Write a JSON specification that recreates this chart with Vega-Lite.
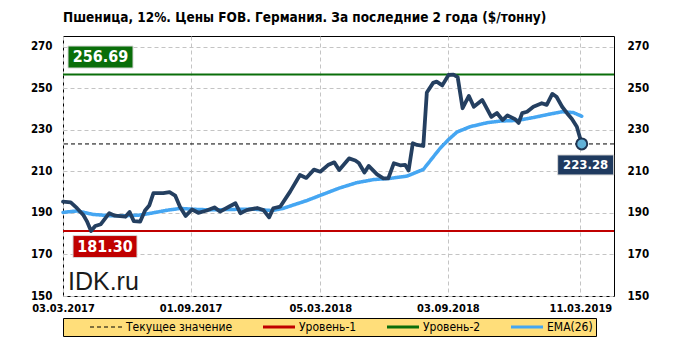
{
  "$schema": "https://vega.github.io/schema/vega-lite/v6.json",
  "width": 551,
  "height": 260,
  "autosize": {"type": "none"},
  "padding": {"left": 63, "top": 36, "right": 67, "bottom": 45},
  "background": "#ffffff",
  "title": {
    "text": "Пшеница, 12%. Цены FOB. Германия. За последние 2 года ($/тонну)",
    "anchor": "start",
    "frame": "group",
    "font": "DejaVu Sans Condensed",
    "fontSize": 13.5,
    "fontWeight": "bold",
    "color": "#000000",
    "baseline": "alphabetic",
    "offset": 1
  },
  "config": {
    "view": {"stroke": "#000000", "strokeWidth": 1},
    "font": "DejaVu Sans Condensed",
    "axis": {
      "labelFont": "DejaVu Sans Condensed",
      "labelFontWeight": "bold",
      "labelFontSize": 11.5,
      "labelColor": "#000000",
      "domain": false,
      "ticks": false,
      "gridColor": "#c4c4c4",
      "gridDash": [4, 3],
      "gridWidth": 1,
      "title": null
    },
    "legend": {
      "orient": "bottom",
      "offset": 5,
      "direction": "horizontal",
      "symbolType": "M-3.2,0H3.2",
      "symbolSize": 100,
      "symbolOffset": 34,
      "labelOffset": 14,
      "columnPadding": 6,
      "padding": 3,
      "strokeColor": "#000000",
      "fillColor": "#FFDE7A",
      "labelFont": "DejaVu Sans Condensed",
      "labelFontSize": 12,
      "labelColor": "#000000",
      "title": null
    }
  },
  "datasets": {
    "price": [
      {"date": "2017-03-03", "value": 195.5},
      {"date": "2017-03-14", "value": 195.1},
      {"date": "2017-03-23", "value": 192.3},
      {"date": "2017-04-01", "value": 189.0},
      {"date": "2017-04-06", "value": 186.1},
      {"date": "2017-04-12", "value": 181.3},
      {"date": "2017-04-18", "value": 183.7},
      {"date": "2017-04-26", "value": 184.6},
      {"date": "2017-05-08", "value": 189.9},
      {"date": "2017-05-16", "value": 188.7},
      {"date": "2017-05-31", "value": 188.2},
      {"date": "2017-06-06", "value": 190.5},
      {"date": "2017-06-12", "value": 186.1},
      {"date": "2017-06-21", "value": 185.8},
      {"date": "2017-06-28", "value": 191.2},
      {"date": "2017-07-04", "value": 193.6},
      {"date": "2017-07-10", "value": 199.6},
      {"date": "2017-07-24", "value": 199.6},
      {"date": "2017-08-02", "value": 200.1},
      {"date": "2017-08-10", "value": 198.4},
      {"date": "2017-08-17", "value": 192.9},
      {"date": "2017-08-25", "value": 188.6},
      {"date": "2017-09-03", "value": 191.7},
      {"date": "2017-09-12", "value": 190.1},
      {"date": "2017-09-24", "value": 191.2},
      {"date": "2017-10-05", "value": 192.7},
      {"date": "2017-10-13", "value": 190.7},
      {"date": "2017-10-25", "value": 192.9},
      {"date": "2017-11-04", "value": 194.7},
      {"date": "2017-11-11", "value": 189.9},
      {"date": "2017-11-20", "value": 191.4},
      {"date": "2017-12-05", "value": 192.4},
      {"date": "2017-12-14", "value": 191.4},
      {"date": "2017-12-22", "value": 187.9},
      {"date": "2017-12-28", "value": 192.3},
      {"date": "2018-01-07", "value": 193.1},
      {"date": "2018-01-21", "value": 200.3},
      {"date": "2018-02-04", "value": 208.3},
      {"date": "2018-02-13", "value": 206.9},
      {"date": "2018-02-24", "value": 210.9},
      {"date": "2018-03-05", "value": 209.9},
      {"date": "2018-03-16", "value": 213.1},
      {"date": "2018-03-25", "value": 214.4},
      {"date": "2018-04-01", "value": 210.7},
      {"date": "2018-04-15", "value": 216.3},
      {"date": "2018-04-24", "value": 215.3},
      {"date": "2018-04-29", "value": 214.1},
      {"date": "2018-05-07", "value": 209.5},
      {"date": "2018-05-13", "value": 212.7},
      {"date": "2018-05-25", "value": 208.6},
      {"date": "2018-06-03", "value": 206.7},
      {"date": "2018-06-10", "value": 206.7},
      {"date": "2018-06-18", "value": 214.0},
      {"date": "2018-06-27", "value": 213.0},
      {"date": "2018-07-04", "value": 213.2},
      {"date": "2018-07-09", "value": 210.5},
      {"date": "2018-07-15", "value": 223.6},
      {"date": "2018-07-21", "value": 222.8},
      {"date": "2018-07-30", "value": 222.3},
      {"date": "2018-08-04", "value": 248.1},
      {"date": "2018-08-13", "value": 252.7},
      {"date": "2018-08-18", "value": 253.3},
      {"date": "2018-08-26", "value": 251.5},
      {"date": "2018-09-04", "value": 256.5},
      {"date": "2018-09-11", "value": 256.69},
      {"date": "2018-09-17", "value": 255.5},
      {"date": "2018-09-24", "value": 240.5},
      {"date": "2018-10-03", "value": 246.4},
      {"date": "2018-10-10", "value": 241.2},
      {"date": "2018-10-22", "value": 244.5},
      {"date": "2018-11-04", "value": 236.3},
      {"date": "2018-11-12", "value": 238.2},
      {"date": "2018-11-20", "value": 234.8},
      {"date": "2018-11-27", "value": 237.0},
      {"date": "2018-12-08", "value": 235.2},
      {"date": "2018-12-13", "value": 233.4},
      {"date": "2018-12-18", "value": 238.1},
      {"date": "2018-12-25", "value": 238.8},
      {"date": "2019-01-03", "value": 241.2},
      {"date": "2019-01-15", "value": 242.9},
      {"date": "2019-01-22", "value": 242.1},
      {"date": "2019-01-30", "value": 247.4},
      {"date": "2019-02-05", "value": 246.0},
      {"date": "2019-02-13", "value": 241.2},
      {"date": "2019-02-20", "value": 238.1},
      {"date": "2019-02-27", "value": 235.3},
      {"date": "2019-03-06", "value": 231.6},
      {"date": "2019-03-13", "value": 223.28}
    ],
    "ema": [
      {"date": "2017-03-03", "value": 190.3},
      {"date": "2017-03-23", "value": 191.0},
      {"date": "2017-04-15", "value": 189.3},
      {"date": "2017-05-09", "value": 188.7},
      {"date": "2017-06-02", "value": 188.7},
      {"date": "2017-06-21", "value": 189.0},
      {"date": "2017-07-10", "value": 190.1},
      {"date": "2017-07-29", "value": 191.3},
      {"date": "2017-08-17", "value": 192.2},
      {"date": "2017-09-05", "value": 191.8},
      {"date": "2017-09-29", "value": 191.5},
      {"date": "2017-10-27", "value": 191.7},
      {"date": "2017-11-28", "value": 191.9},
      {"date": "2017-12-12", "value": 191.5},
      {"date": "2017-12-26", "value": 191.2},
      {"date": "2018-01-11", "value": 192.2},
      {"date": "2018-01-26", "value": 193.9},
      {"date": "2018-02-14", "value": 196.0},
      {"date": "2018-03-05", "value": 198.5},
      {"date": "2018-04-02", "value": 202.1},
      {"date": "2018-04-26", "value": 204.6},
      {"date": "2018-05-20", "value": 206.1},
      {"date": "2018-06-13", "value": 206.7},
      {"date": "2018-07-07", "value": 207.8},
      {"date": "2018-07-30", "value": 211.0},
      {"date": "2018-08-23", "value": 221.2},
      {"date": "2018-09-04", "value": 225.4},
      {"date": "2018-09-16", "value": 229.0},
      {"date": "2018-10-05", "value": 231.6},
      {"date": "2018-10-29", "value": 233.5},
      {"date": "2018-11-17", "value": 234.3},
      {"date": "2018-12-11", "value": 234.6},
      {"date": "2019-01-03", "value": 236.0},
      {"date": "2019-01-27", "value": 237.7},
      {"date": "2019-02-13", "value": 238.8},
      {"date": "2019-03-01", "value": 238.4},
      {"date": "2019-03-13", "value": 236.6}
    ],
    "levels": [
      {"series": "Текущее значение", "value": 223.28},
      {"series": "Уровень-1", "value": 181.30},
      {"series": "Уровень-2", "value": 256.69}
    ]
  },
  "resolve": {"axis": {"y": "independent"}},
  "layer": [
    {
      "data": {"name": "levels"},
      "transform": [{"filter": "datum.series !== 'Текущее значение'"}],
      "mark": {"type": "rule", "strokeWidth": 2},
      "encoding": {
        "y": {
          "field": "value", "type": "quantitative",
          "scale": {"domain": [150, 275.3], "nice": false, "zero": false},
          "axis": {"orient": "left", "values": [150, 170, 190, 210, 230, 250, 270], "grid": true, "labelPadding": 11}
        },
        "color": {
          "field": "series", "type": "nominal",
          "scale": {"domain": ["Текущее значение", "Уровень-1", "Уровень-2", "EMA(26)"], "range": ["#000000", "#C00000", "#0A6E0A", "#45A6F2"]},
          "legend": {
            "encode": {
              "symbols": {"update": {"strokeWidth": {"signal": "datum.label === 'Текущее значение' ? 1 : 3"}}}
            }
          }
        },
        "strokeDash": {
          "field": "series", "type": "nominal",
          "scale": {"domain": ["Текущее значение", "Уровень-1", "Уровень-2", "EMA(26)"], "range": [[4, 3], [1, 0], [1, 0], [1, 0]]}
        }
      }
    },
    {
      "data": {"name": "levels"},
      "transform": [{"filter": "datum.series === 'Текущее значение'"}],
      "mark": {"type": "rule", "strokeWidth": 1},
      "encoding": {
        "y": {"field": "value", "type": "quantitative", "scale": {"domain": [150, 275.3], "nice": false, "zero": false}, "axis": null},
        "color": {"field": "series", "type": "nominal"},
        "strokeDash": {"field": "series", "type": "nominal"}
      }
    },
    {
      "data": {"name": "ema"},
      "mark": {"type": "line", "strokeWidth": 3.5, "strokeCap": "round", "strokeJoin": "round"},
      "encoding": {
        "x": {
          "field": "date", "type": "temporal",
          "scale": {"domain": [{"year": 2017, "month": 3, "date": 3}, {"year": 2019, "month": 4, "date": 28}], "nice": false},
          "axis": {
            "values": [{"year": 2017, "month": 3, "date": 3}, {"year": 2017, "month": 9, "date": 1}, {"year": 2018, "month": 3, "date": 5}, {"year": 2018, "month": 9, "date": 3}, {"year": 2019, "month": 3, "date": 11}],
            "format": "%d.%m.%Y", "grid": true, "labelFlush": false, "labelOverlap": false, "labelPadding": 6, "labelFontSize": 11
          }
        },
        "y": {"field": "value", "type": "quantitative", "scale": {"domain": [150, 275.3], "nice": false, "zero": false}, "axis": null},
        "color": {"datum": "EMA(26)", "type": "nominal"},
        "strokeDash": {"datum": "EMA(26)", "type": "nominal"}
      }
    },
    {
      "data": {"name": "price"},
      "mark": {"type": "line", "color": "#243F60", "strokeWidth": 3.8, "strokeJoin": "round", "strokeCap": "round"},
      "encoding": {
        "x": {"field": "date", "type": "temporal", "scale": {"domain": [{"year": 2017, "month": 3, "date": 3}, {"year": 2019, "month": 4, "date": 28}], "nice": false}},
        "y": {
          "field": "value", "type": "quantitative",
          "scale": {"domain": [150, 275.3], "nice": false, "zero": false},
          "axis": {"orient": "right", "values": [150, 170, 190, 210, 230, 250, 270], "grid": false, "labelPadding": 13}
        }
      }
    },
    {
      "data": {"values": [{"date": "2019-03-13", "value": 223.28}]},
      "mark": {"type": "point", "filled": true, "size": 120, "fill": "#62B2D8", "stroke": "#1F3552", "strokeWidth": 2, "opacity": 1},
      "encoding": {
        "x": {"field": "date", "type": "temporal"},
        "y": {"field": "value", "type": "quantitative", "axis": null}
      }
    },
    {
      "data": {"values": [{"date": "2017-03-03", "value": 256.69, "text": "256.69"}]},
      "layer": [
        {
          "mark": {"type": "rect", "width": 65, "height": 22, "xOffset": 37.5, "yOffset": -17.6, "fill": "#0A6E0A", "stroke": "#d8d8d8", "strokeWidth": 1},
          "encoding": {
            "x": {"field": "date", "type": "temporal"},
            "y": {"field": "value", "type": "quantitative", "axis": null}
          }
        },
        {
          "mark": {"type": "text", "dx": 37.5, "dy": -17.6, "align": "center", "baseline": "middle", "color": "#ffffff", "font": "DejaVu Sans Condensed", "fontWeight": "bold", "fontSize": 16},
          "encoding": {
            "x": {"field": "date", "type": "temporal"},
            "y": {"field": "value", "type": "quantitative", "axis": null},
            "text": {"field": "text"}
          }
        }
      ]
    },
    {
      "data": {"values": [{"date": "2017-03-03", "value": 181.30, "text": "181.30"}]},
      "layer": [
        {
          "mark": {"type": "rect", "width": 64, "height": 22, "xOffset": 42, "yOffset": 15.5, "fill": "#C00000", "stroke": "#d8d8d8", "strokeWidth": 1},
          "encoding": {
            "x": {"field": "date", "type": "temporal"},
            "y": {"field": "value", "type": "quantitative", "axis": null}
          }
        },
        {
          "mark": {"type": "text", "dx": 42, "dy": 15.5, "align": "center", "baseline": "middle", "color": "#ffffff", "font": "DejaVu Sans Condensed", "fontWeight": "bold", "fontSize": 16},
          "encoding": {
            "x": {"field": "date", "type": "temporal"},
            "y": {"field": "value", "type": "quantitative", "axis": null},
            "text": {"field": "text"}
          }
        }
      ]
    },
    {
      "data": {"values": [{"date": "2019-03-13", "value": 223.28, "text": "223.28"}]},
      "layer": [
        {
          "mark": {"type": "rect", "width": 56, "height": 20, "xOffset": 3.9, "yOffset": 21, "fill": "#1F3A5F", "stroke": "#d8d8d8", "strokeWidth": 1},
          "encoding": {
            "x": {"field": "date", "type": "temporal"},
            "y": {"field": "value", "type": "quantitative", "axis": null}
          }
        },
        {
          "mark": {"type": "text", "dx": 3.9, "dy": 21, "align": "center", "baseline": "middle", "color": "#ffffff", "font": "DejaVu Sans Condensed", "fontWeight": "bold", "fontSize": 13},
          "encoding": {
            "x": {"field": "date", "type": "temporal"},
            "y": {"field": "value", "type": "quantitative", "axis": null},
            "text": {"field": "text"}
          }
        }
      ]
    },
    {
      "data": {"values": [{"date": "2017-03-03", "value": 150, "text": "IDK.ru"}]},
      "mark": {"type": "text", "dx": 5, "dy": -6, "align": "left", "baseline": "alphabetic", "color": "#1a1a1a", "font": "Liberation Sans", "fontSize": 25},
      "encoding": {
        "x": {"field": "date", "type": "temporal"},
        "y": {"field": "value", "type": "quantitative", "axis": null},
        "text": {"field": "text"}
      }
    }
  ]
}
